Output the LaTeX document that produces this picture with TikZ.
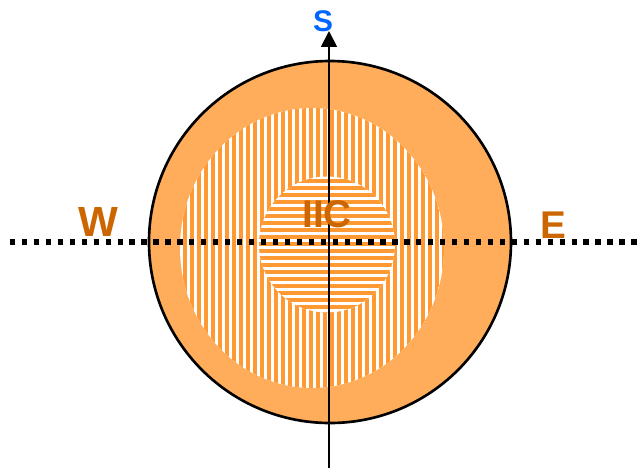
\documentclass[tikz,border=0pt]{standalone}
\usepackage{fontspec}
\setmainfont{Liberation Sans}
\usepackage{xcolor}
\usetikzlibrary{arrows.meta,positioning}

\definecolor{bandorange}{RGB}{255,173,91}
\definecolor{stripeorange}{RGB}{255,153,51}
\definecolor{textorange}{RGB}{204,102,0}
\definecolor{skyblue}{RGB}{0,102,255}

\begin{document}
\begin{tikzpicture}[x=0.02cm, y=-0.02cm,
            stripe/.style={draw=stripeorange, line width=2pt},
            dirlabel/.style={font=\fontsize{22}{22}\bfseries, text=textorange, inner sep=0pt},
            axisline/.style={line width=1.1pt},
            dotline/.style={line width=3pt, dash pattern=on 3pt off 3.8pt}]
            \useasboundingbox (0,0) rectangle (637,468);

            % Outer ring
            \filldraw[fill=bandorange, draw=black, line width=1.5pt] (330,242) circle [radius=181];

            % Middle zone, vertical hatching
            \begin{scope}
                \clip (312,248) ellipse [x radius=132, y radius=140];
                \fill[white] (178,106) rectangle (446,390);
                \foreach \x in {178,185,...,446}
                    \draw[stripe] (\x,100) -- (\x,395);
            \end{scope}

            % Inner zone, horizontal hatching
            \begin{scope}
                \clip (327,244.5) circle [radius=68];
                \fill[white] (258,176) rectangle (396,313);
                \foreach \y in {174,181,...,316}
                    \draw[stripe] (255,\y) -- (400,\y);
            \end{scope}

            % Axes
            \coordinate (westend) at (10,242);
            \coordinate (eastend) at (637,242);
            \coordinate (southend) at (329,468);
            \coordinate (northend) at (329,31);
            \draw[dotline] (westend) -- (eastend);
            \draw[axisline, -{Triangle[width=9pt,length=9pt]}] (southend) -- (northend);

            % Labels
            \node[font=\fontsize{17}{17}\bfseries, text=skyblue, inner sep=0pt] (slabel) at (323,21) {S};
            \node[dirlabel, font=\fontsize{24}{24}\bfseries] (wlabel) at (98,222) {W};
            \node[dirlabel] (elabel) at (553,225) {E};
            \node[dirlabel] (iiclabel) at (327,214) {IIC};
        \end{tikzpicture}
\end{document}
